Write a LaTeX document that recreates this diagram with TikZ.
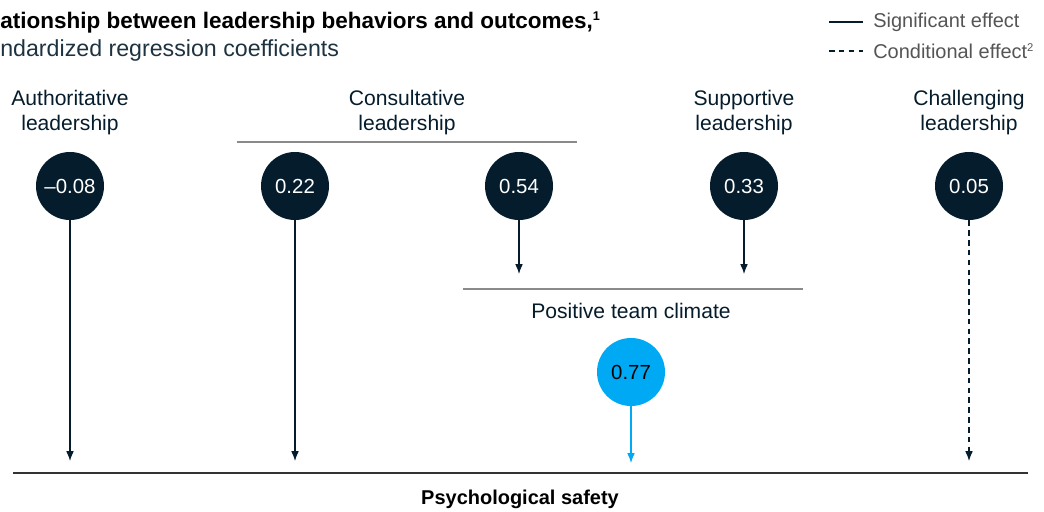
\documentclass[tikz,border=0pt]{standalone}
\usepackage{fontspec}
\setmainfont{Liberation Sans}
\usetikzlibrary{arrows.meta}

\definecolor{navy}{HTML}{051C2C}
\definecolor{skyblue}{HTML}{00A9F4}
\definecolor{rulegray}{HTML}{8A8A8A}
\definecolor{textgray}{HTML}{555555}

\tikzset{
  coef/.style={circle,fill=navy,minimum size=1.7cm,inner sep=0pt,text=white,
    font=\fontsize{14.5}{16}\selectfont},
  lbl/.style={align=center,text=navy,font=\fontsize{15}{17.8}\selectfont},
  effect/.style={draw=navy,line width=0.85pt,-{Latex[length=7pt,width=5.5pt]}},
}

\begin{document}
\begin{tikzpicture}[x=0.025cm,y=-0.025cm]

  \useasboundingbox (0,0) rectangle (1044,512);

  % title
  \node[anchor=base west,inner sep=0pt,text=black,font=\bfseries\fontsize{16}{18}\selectfont]
    (title) at (0,29) {ationship between leadership behaviors and outcomes,\textsuperscript{\fontsize{9}{9}\selectfont 1}};
  \node[anchor=base west,inner sep=0pt,text=navy!90!white,font=\fontsize{16.5}{18}\selectfont]
    (subtitle) at (0,57) {ndardized regression coefficients};

  % legend
  \coordinate (lga) at (829,22);
  \coordinate (lgb) at (863,22);
  \coordinate (lgc) at (829,51);
  \coordinate (lgd) at (863,51);
  \draw[navy,line width=0.85pt] (lga) -- (lgb);
  \draw[navy,line width=0.85pt,dash pattern=on 4pt off 3pt] (lgc) -- (lgd);
  \node[anchor=west,inner sep=0pt,text=textgray,font=\fontsize{14.2}{16}\selectfont]
    (sig) at (873,22) {Significant effect};
  \node[anchor=west,inner sep=0pt,text=textgray,font=\fontsize{14.2}{16}\selectfont]
    (cond) at (873,51) {Conditional effect\textsuperscript{\fontsize{8}{8}\selectfont 2}};

  % leadership labels
  \node[lbl] (auth) at (70,113) {Authoritative\\leadership};
  \node[lbl] (cons) at (407,113) {Consultative\\leadership};
  \node[lbl] (supp) at (744,113) {Supportive\\leadership};
  \node[lbl] (chal) at (969,113) {Challenging\\leadership};
  \coordinate (consl) at (237,142);
  \coordinate (consr) at (577,142);
  \draw[rulegray,line width=1.1pt] (consl) -- (consr);

  % coefficients
  \node[coef] (c1) at (70,186) {–0.08};
  \node[coef] (c2) at (295,186) {0.22};
  \node[coef] (c3) at (519,186) {0.54};
  \node[coef] (c4) at (744,186) {0.33};
  \node[coef] (c5) at (969,186) {0.05};

  % positive team climate
  \coordinate (ptl) at (463,289);
  \coordinate (ptr) at (803,289);
  \draw[rulegray,line width=1.1pt] (ptl) -- (ptr);
  \node[lbl] (climate) at (631,311) {Positive team climate};
  \node[coef,fill=skyblue,text=black] (c6) at (631,372) {0.77};

  % psychological safety
  \coordinate (psl) at (13,473);
  \coordinate (psr) at (1028,473);
  \draw[black!80,line width=0.85pt] (psl) -- (psr);
  \node[lbl,text=black,font=\bfseries\fontsize{14.2}{16}\selectfont] (safety) at (520,499) {Psychological safety};

  % arrow ends
  \coordinate (e1) at (70,461);
  \coordinate (e2) at (295,461);
  \coordinate (e3) at (519,274);
  \coordinate (e4) at (744,274);
  \coordinate (e5) at (969,461);
  \coordinate (e6) at (631,463);

  \draw[effect] (c1) -- (e1);
  \draw[effect] (c2) -- (e2);
  \draw[effect] (c3) -- (e3);
  \draw[effect] (c4) -- (e4);
  \draw[effect,dash pattern=on 4pt off 3pt] (c5) -- (e5);
  \draw[effect,draw=skyblue,fill=skyblue] (c6) -- (e6);
\end{tikzpicture}
\end{document}
